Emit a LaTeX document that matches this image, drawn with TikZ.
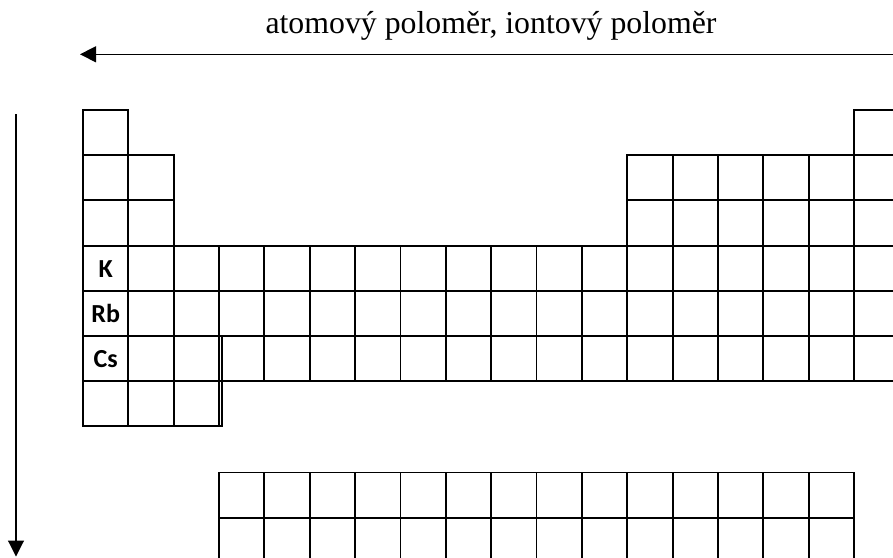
\documentclass[tikz,border=0pt]{standalone}
\usepackage{fontspec}
\setmainfont{Liberation Serif}
\newfontfamily\lblfont{Carlito}
\usetikzlibrary{arrows.meta,positioning}
\definecolor{ink}{HTML}{000000}
\newcommand{\cw}{45.35}
\newcommand{\ch}{45.2}
\tikzset{
  cell/.style={rectangle, draw=ink, fill=none, line width=1.9pt, minimum width=45.35pt,
               minimum height=45.2pt, inner sep=0pt, outer sep=0pt, anchor=north west},
  elem/.style={font=\lblfont\bfseries\fontsize{26}{30}\selectfont, text=ink, anchor=base},
  ttl/.style={font=\fontsize{31.8}{36}\selectfont, text=ink, anchor=base},
  trend/.style={-{Triangle[length=16pt,width=16pt]}, draw=ink, line width=1.1pt},
  dbl/.style={draw=ink, line width=1.9pt}
}

\begin{document}
\begin{tikzpicture}[x=1pt, y=-1pt]
 \clip (0,0) rectangle (893,557);
 % title and trend arrows
 \node[ttl] (title) at (491,33) {atomový poloměr, iontový poloměr};
 \coordinate (radR) at (893,54.3);
 \coordinate (radL) at (80,54.3);
 \coordinate (grpT) at (16,114);
 \coordinate (grpB) at (16,556.5);
 \draw[trend] (radR) -- (radL);
 \draw[trend] (grpT) -- (grpB);
 % main table
 \foreach \c in {1,18}
   \node[cell] (c-1-\c) at ({83+(\c-1)*\cw},110) {};
 \foreach \r in {2,3}
   \foreach \c in {1,2,13,14,15,16,17,18}
     \node[cell] (c-\r-\c) at ({83+(\c-1)*\cw},{110+(\r-1)*\ch}) {};
 \foreach \r in {4,5,6}
   \foreach \c in {1,...,18}
     \node[cell] (c-\r-\c) at ({83+(\c-1)*\cw},{110+(\r-1)*\ch}) {};
 \foreach \c in {1,2,3}
   \node[cell] (c-7-\c) at ({83+(\c-1)*\cw},{110+6*\ch}) {};
 \draw[dbl] ([xshift=2.8pt]c-6-3.north east) -- ([xshift=2.8pt]c-7-3.south east) -- (c-7-3.south east);
 % f-block
 \foreach \r in {1,2}
   \foreach \c in {1,...,14}
     \node[cell] (f-\r-\c) at ({83+(\c+2)*\cw},{472.5+(\r-1)*\ch}) {};
 % alkali metals
 \node[elem] (k) at ([yshift=13.5pt]c-4-1.south) {K};
 \node[elem] (rb) at ([yshift=13.5pt]c-5-1.south) {Rb};
 \node[elem] (cs) at ([yshift=13.5pt]c-6-1.south) {Cs};
\end{tikzpicture}
\end{document}
